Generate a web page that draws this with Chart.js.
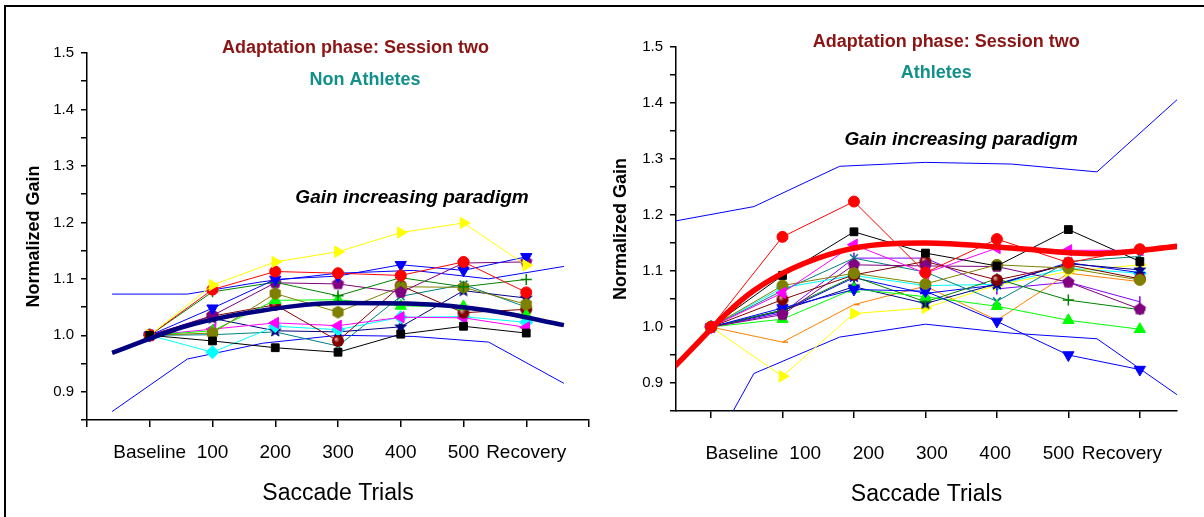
<!DOCTYPE html>
<html>
<head>
<meta charset="utf-8">
<script src="https://cdn.jsdelivr.net/npm/chart.js@4.4.1/dist/chart.umd.min.js"></script>
<style>
  body { margin: 0; background: #fff; }
  #frame { position: absolute; left: 4px; top: 5px; width: 1220px; height: 530px;
           border-top: 2px solid #000; border-left: 2px solid #000; }
  .panel { position: absolute; top: 0; }
</style>
</head>
<body>
<div id="frame"></div>
<canvas id="left" class="panel" width="600" height="517" style="left:0"></canvas>
<canvas id="right" class="panel" width="604" height="517" style="left:600px"></canvas>
<script>
const trials = ['Baseline', '100', '200', '300', '400', '500', 'Recovery'];
const trialPos = [0, 1, 2, 3, 4, 5, 6];
const fitPos = [-0.6, 0.6, 1.8, 3.0, 4.2, 5.4, 6.6];
const gainTicks = [0.9, 1.0, 1.1, 1.2, 1.3, 1.4, 1.5];
const gainMinor = [0.85, 0.95, 1.05, 1.15, 1.25, 1.35, 1.45];

// Non athletes, one row per subject
const naSquare   = [1.000, 0.990, 0.978, 0.970, 1.002, 1.016, 1.004];
const naTriRight = [1.000, 1.089, 1.130, 1.148, 1.182, 1.199, 1.124];
const naCircle   = [1.000, 1.081, 1.113, 1.110, 1.106, 1.130, 1.076];
const naTriDown  = [1.000, 1.048, 1.099, 1.105, 1.125, 1.115, 1.139];
const naPlus     = [1.000, 1.077, 1.094, 1.070, 1.102, 1.086, 1.099];
const naPentagon = [1.000, 1.035, 1.093, 1.091, 1.076, 1.128, 1.130];
const naHexagon  = [1.000, 1.004, 1.074, 1.041, 1.086, 1.085, 1.055];
const naTriUp    = [1.000, 1.008, 1.062, 1.063, 1.052, 1.051, 1.036];
const naSphere   = [1.000, 1.034, 1.054, 0.990, 1.088, 1.040, 1.046];
const naTriLeft  = [1.000, 1.011, 1.022, 1.017, 1.032, 1.031, 1.014];
const naDiamond  = [1.000, 0.970, 1.016, 1.010, 1.032, 1.033, 1.023];
const naStar     = [1.000, 1.030, 1.008, 1.006, 1.015, 1.079, 1.066];
const naCross    = [1.000, 1.001, 1.006, 0.981, 1.069, 1.090, 1.050];
const naMean     = [0.969, 1.017, 1.044, 1.057, 1.056, 1.044, 1.018];
const naUpper    = [1.073, 1.073, 1.095, 1.110, 1.115, 1.100, 1.122];
const naLower    = [0.865, 0.958, 0.986, 1.000, 0.998, 0.988, 0.915];

// Athletes
const atCircle   = [1.000, 1.161, 1.224, 1.097, 1.157, 1.115, 1.139];
const atSquare   = [1.000, 1.092, 1.170, 1.132, 1.109, 1.174, 1.117];
const atTriLeft  = [1.000, 1.061, 1.147, 1.096, 1.141, 1.137, 1.137];
const atOlive    = [1.000, 1.074, 1.096, 1.077, 1.111, 1.105, 1.084];
const atPentagon = [1.000, 1.022, 1.111, 1.109, 1.108, 1.080, 1.032];
const atSphere   = [1.000, 1.049, 1.093, 1.117, 1.084, 1.111, 1.086];
const atTriDown  = [1.000, 1.034, 1.067, 1.064, 1.010, 0.950, 0.924];
const atTriUp    = [1.000, 1.014, 1.068, 1.054, 1.037, 1.012, 0.996];
const atPlus     = [1.000, 1.030, 1.090, 1.045, 1.086, 1.048, 1.031];
const atCross    = [1.000, 1.065, 1.123, 1.098, 1.046, 1.117, 1.126];
const atStar     = [1.000, 1.030, 1.072, 1.042, 1.077, 1.113, 1.102];
const atAsterisk = [1.000, 1.028, 1.088, 1.060, 1.075, 1.115, 1.097];
const atTriRight = [1.000, 0.912, 1.024, 1.034, 1.075, 1.099, 1.111];
const atDash     = [1.000, 0.973, 1.040, 1.073, 1.012, 1.096, 1.081];
const atDiamond  = [1.000, 1.070, 1.092, 1.074, 1.076, 1.105, 1.096];
const atBar      = [1.000, 1.025, 1.123, 1.123, 1.068, 1.080, 1.045];
const atMean     = [0.918, 1.065, 1.135, 1.150, 1.141, 1.131, 1.145];
const atUpper    = [1.187, 1.215, 1.287, 1.294, 1.291, 1.277, 1.415];
const atLower    = [0.640, 0.917, 0.982, 1.005, 0.989, 0.979, 0.872];

const FONT = "'Liberation Sans', Arial, sans-serif";

// filled marker shapes chart.js doesn't have
function shape(kind, color, r) {
  const c = document.createElement('canvas');
  const s = Math.ceil(r * 2 + 2);
  c.width = c.height = s;
  const g = c.getContext('2d');
  const m = s / 2;
  if (kind === 'sphere') {
    const grad = g.createRadialGradient(m - r * 0.35, m - r * 0.35, 0.5, m, m, r);
    grad.addColorStop(0, '#e8a0a0');
    grad.addColorStop(0.45, color);
    grad.addColorStop(1, color);
    g.fillStyle = grad;
    g.beginPath(); g.arc(m, m, r, 0, Math.PI * 2); g.fill();
    return c;
  }
  const n = kind === 'star' ? 10 : kind === 'pentagon' ? 5 : 6;
  g.fillStyle = color;
  g.beginPath();
  for (let i = 0; i < n; i++) {
    const a = -Math.PI / 2 + i * 2 * Math.PI / n;
    const rr = (kind === 'star' && i % 2) ? r * 0.45 : r;
    g.lineTo(m + rr * Math.cos(a), m + rr * Math.sin(a));
  }
  g.closePath();
  g.fill();
  return c;
}

function subject(values, color, style, opts) {
  return Object.assign({
    data: values.map((v, i) => ({ x: trialPos[i], y: v })),
    showLine: true,
    borderColor: color,
    backgroundColor: color,
    borderWidth: 1,
    pointStyle: style,
    pointRadius: 5.5,
    pointBorderWidth: 1,
    order: 1
  }, opts || {});
}

function fitLine(values, color, width, order) {
  return {
    data: values.map((v, i) => ({ x: fitPos[i], y: v })),
    showLine: true,
    borderColor: color,
    borderWidth: width,
    pointRadius: 0,
    clip: 0,
    order: order,
    cubicInterpolationMode: width > 2 ? 'monotone' : 'default'
  };
}

const notes = {
  id: 'notes',
  afterDraw(chart, args, opts) {
    const { ctx, scales } = chart;
    ctx.save();
    ctx.textAlign = 'center';
    ctx.textBaseline = 'middle';
    opts.items.forEach(t => {
      ctx.font = t.font;
      ctx.fillStyle = t.color;
      ctx.fillText(t.text, scales.x.getPixelForValue(t.x), scales.y.getPixelForValue(t.y));
    });
    ctx.restore();
  }
};

const titleRed = '#8b1414';
const titleTeal = '#12908c';
const boldFont = `bold 18px ${FONT}`;
const italicFont = `italic bold 19px ${FONT}`;

function makeChart(id, cfg) {
  new Chart(document.getElementById(id), {
    type: 'scatter',
    data: { datasets: cfg.datasets },
    options: {
      responsive: false,
      animation: false,
      events: [],
      layout: { padding: cfg.padding },
      plugins: {
        legend: { display: false },
        tooltip: { enabled: false },
        notes: { items: cfg.notes }
      },
      scales: {
        x: {
          type: 'linear', min: cfg.xMin, max: cfg.xMax,
          afterBuildTicks: s => { s.ticks = cfg.xTicks.map(v => ({ value: v })); },
          afterFit: s => { s.height = 10; },
          ticks: { display: false },
          grid: { drawOnChartArea: false, tickLength: 7, color: '#000', lineWidth: 1.5 },
          border: { color: '#000', width: 1.5 }
        },
        xl: {
          type: 'linear', position: 'bottom', weight: 1, min: cfg.labelMin, max: cfg.labelMax,
          afterBuildTicks: s => { s.ticks = trialPos.map(v => ({ value: v })); },
          afterFit: s => { s.height = cfg.xlHeight; },
          grid: { display: false, drawTicks: false },
          border: { display: false },
          ticks: {
            padding: cfg.labelPad, color: '#000', autoSkip: false, maxRotation: 0,
            font: { family: FONT, size: 19 },
            callback: v => trials[v] ?? ''
          },
          title: { display: true, text: 'Saccade Trials', color: '#000', padding: 3,
                   font: { family: FONT, size: 23 } }
        },
        y: {
          min: 0.85, max: 1.5,
          afterBuildTicks: s => {
            s.ticks = gainTicks.concat(gainMinor).sort((a, b) => a - b).map(v => ({ value: v }));
          },
          afterFit: s => { s.width = cfg.yWidth; },
          ticks: {
            padding: 7, color: '#000', font: { family: FONT, size: 15 },
            callback: v => gainTicks.some(t => Math.abs(t - v) < 1e-6) ? v.toFixed(1) : ''
          },
          grid: { drawOnChartArea: false, tickLength: 6, color: '#000', lineWidth: 1.5 },
          border: { color: '#000', width: 1.5 },
          title: { display: true, text: 'Normalized Gain', color: '#000', padding: 4,
                   font: { family: FONT, size: 18, weight: 'bold' } }
        }
      }
    },
    plugins: [notes]
  });
}

makeChart('left', {
  padding: { left: 19, right: 11, top: 53, bottom: 7 },
  yWidth: 68, xlHeight: 80, labelPad: 11,
  xMin: -1, xMax: 7, xTicks: [-1, 0, 1, 2, 3, 4, 5, 6, 7],
  labelMin: -1, labelMax: 7,
  notes: [
    { text: 'Adaptation phase: Session two', x: 3.28, y: 1.508, font: boldFont, color: titleRed },
    { text: 'Non Athletes', x: 3.43, y: 1.453, font: boldFont, color: titleTeal },
    { text: 'Gain increasing paradigm', x: 4.18, y: 1.244, font: italicFont, color: '#000' }
  ],
  datasets: [
    fitLine(naMean, '#000080', 4.5, 0),
    subject(naSquare, '#000000', 'rect'),
    subject(naTriRight, '#ffff00', 'triangle', { pointRotation: 90, pointRadius: 6.5 }),
    subject(naCircle, '#ff0000', 'circle'),
    subject(naTriDown, '#0000ff', 'triangle', { pointRotation: 180, pointRadius: 6.5 }),
    subject(naPlus, '#008000', 'cross', { pointBorderWidth: 1.5 }),
    subject(naPentagon, '#800080', shape('pentagon', '#800080', 6.5)),
    subject(naHexagon, '#808000', shape('hexagon', '#808000', 6.5)),
    subject(naTriUp, '#00ff00', 'triangle', { pointRadius: 6.5 }),
    subject(naSphere, '#800000', shape('sphere', '#800000', 6)),
    subject(naTriLeft, '#ff00ff', 'triangle', { pointRotation: 270, pointRadius: 6.5 }),
    subject(naDiamond, '#00ffff', 'rectRot', { pointRadius: 6.5 }),
    subject(naStar, '#000080', shape('star', '#000080', 7)),
    subject(naCross, '#008080', 'crossRot', { pointBorderWidth: 1.5 }),
    fitLine(naUpper, '#0000ff', 1, 2),
    fitLine(naLower, '#0000ff', 1, 2)
  ]
});

makeChart('right', {
  padding: { left: 6, right: 27, top: 47, bottom: 6 },
  yWidth: 70, xlHeight: 90, labelPad: 21,
  xMin: -0.49, xMax: 6.52, xTicks: trialPos,
  labelMin: -1.04, labelMax: 6.87,
  notes: [
    { text: 'Adaptation phase: Session two', x: 3.29, y: 1.508, font: boldFont, color: titleRed },
    { text: 'Athletes', x: 3.15, y: 1.453, font: boldFont, color: titleTeal },
    { text: 'Gain increasing paradigm', x: 3.5, y: 1.334, font: italicFont, color: '#000' }
  ],
  datasets: [
    fitLine(atMean, '#ff0000', 5.5, 0),
    subject(atCircle, '#ff0000', 'circle'),
    subject(atSquare, '#000000', 'rect'),
    subject(atTriLeft, '#ff00ff', 'triangle', { pointRotation: 270, pointRadius: 6.5 }),
    subject(atOlive, '#808000', 'circle'),
    subject(atPentagon, '#800080', shape('pentagon', '#800080', 6.5)),
    subject(atSphere, '#800000', shape('sphere', '#800000', 6)),
    subject(atTriDown, '#0000ff', 'triangle', { pointRotation: 180, pointRadius: 6.5 }),
    subject(atTriUp, '#00ff00', 'triangle', { pointRadius: 6.5 }),
    subject(atPlus, '#008000', 'cross', { pointBorderWidth: 1.5 }),
    subject(atCross, '#008080', 'crossRot', { pointBorderWidth: 1.5 }),
    subject(atStar, '#000080', shape('star', '#000080', 7)),
    subject(atAsterisk, '#0000ff', 'star', { pointBorderWidth: 1.5 }),
    subject(atTriRight, '#ffff00', 'triangle', { pointRotation: 90, pointRadius: 6.5 }),
    subject(atDash, '#ff8000', 'dash', { pointBorderWidth: 1.5 }),
    subject(atDiamond, '#00ffff', 'rectRot', { pointRadius: 6.5 }),
    subject(atBar, '#8000ff', 'line', { pointRotation: 90, pointBorderWidth: 1.5 }),
    fitLine(atUpper, '#0000ff', 1, 2),
    fitLine(atLower, '#0000ff', 1, 2)
  ]
});
</script>
</body>
</html>
